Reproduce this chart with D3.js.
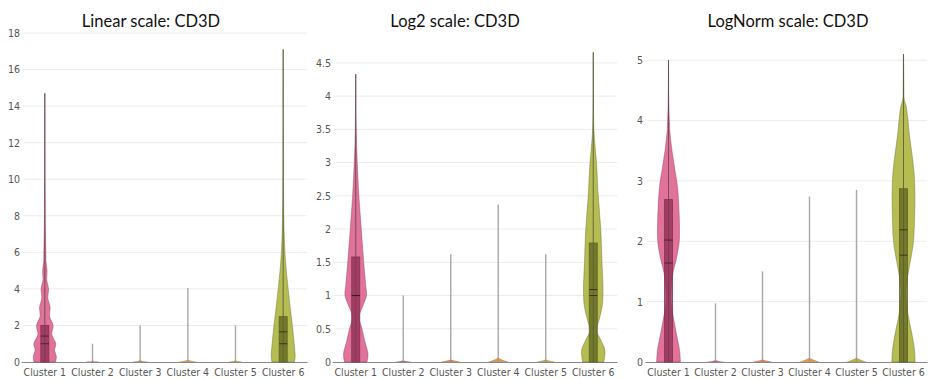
<!DOCTYPE html>
<html><head><meta charset="utf-8">
<script src="https://cdn.jsdelivr.net/npm/d3@7"></script>
<style>
html,body{margin:0;padding:0;background:#fff;}
svg{display:block;}
.tick-label{font-family:"Liberation Sans Narrow","DejaVu Sans Condensed",Roboto,sans-serif;font-size:10.5px;fill:#555;}
.title{font-family:Lato,"Open Sans",sans-serif;font-size:16.5px;fill:#111;}
</style></head>
<body>
<svg id="chart" width="934" height="379"></svg>
<script>
// ---------------- DATA ----------------
const clusters = ["Cluster 1","Cluster 2","Cluster 3","Cluster 4","Cluster 5","Cluster 6"];
const clusterColors = ["#dc5a88","#b5566a","#c3764f","#c98a45","#aa9a3c","#a7b034"];
const boxColors = ["#8a2d52","#7a3040","#7a4a30","#7a5a2a","#6a5e22","#5c6322"];
const titles = ["Linear scale: CD3D","Log2 scale: CD3D","LogNorm scale: CD3D"];

const linearTicks = [0,2,4,6,8,10,12,14,16,18];
const log2Ticks = [0,0.5,1,1.5,2,2.5,3,3.5,4,4.5];
const lognormTicks = [0,1,2,3,4,5];
const domainMax = [18, 4.95, 5.45];

// whisker maxima per cluster
const linearMax  = [14.7, 1.0, 2.0, 4.05, 2.0, 17.1];
const log2Max    = [4.33, 1.0, 1.62, 2.37, 1.62, 4.66];
const lognormMax = [5.0, 0.97, 1.5, 2.74, 2.85, 5.1];

// boxes: [q1, median, q3, mean] for clusters 1 and 6
const linearBox  = [[0, 1.0, 2.0, 1.42], [0, 1.0, 2.48, 1.65]];
const log2Box    = [[0, 1.0, 1.58, 1.0], [0, 1.0, 1.79, 1.09]];
const lognormBox = [[0, 2.02, 2.69, 1.64], [0, 2.19, 2.87, 1.77]];

// violin outlines: [value, relative density]
const linearViolin1 = [[0,0.86],[0.3,0.92],[0.65,0.78],[1,0.88],[1.5,0.56],[2,0.66],[2.5,0.38],[3,0.42],[3.5,0.24],[4,0.3],[4.5,0.15],[5,0.18],[5.5,0.09],[6,0.08],[7,0.05],[8,0.035],[10,0.022],[12,0.014],[14.7,0.006]];
const linearViolin6 = [[0,0.9],[0.3,0.96],[1,0.88],[2,0.74],[3,0.56],[4,0.4],[5,0.25],[6,0.14],[7,0.08],[8,0.05],[9,0.035],[11,0.02],[14,0.012],[17.1,0.006]];
const log2Violin1 = [[0,0.9],[0.12,0.98],[0.3,0.74],[0.5,0.5],[0.68,0.27],[0.85,0.58],[1.0,0.86],[1.15,0.8],[1.5,0.64],[2,0.44],[2.5,0.25],[3,0.12],[3.3,0.06],[3.6,0.03],[4,0.014],[4.33,0.005]];
const log2Violin6 = [[0,0.85],[0.18,0.93],[0.33,0.6],[0.48,0.25],[0.62,0.45],[0.85,0.72],[1.1,0.78],[1.5,0.7],[2,0.6],[2.5,0.4],[3,0.26],[3.25,0.14],[3.5,0.05],[4,0.015],[4.66,0.005]];
const lognormViolin1 = [[0,0.95],[0.2,0.88],[0.5,0.6],[0.75,0.38],[1.0,0.18],[1.2,0.2],[1.5,0.38],[1.7,0.62],[2,0.86],[2.4,0.86],[2.9,0.72],[3.2,0.5],[3.5,0.28],[3.8,0.12],[4.0,0.07],[4.4,0.02],[5,0.006]];
const lognormViolin6 = [[0,0.93],[0.2,0.88],[0.5,0.64],[0.8,0.35],[1.1,0.2],[1.3,0.24],[1.5,0.4],[1.8,0.66],[2,0.8],[2.5,0.9],[2.9,0.9],[3.2,0.82],[3.5,0.64],[3.8,0.45],[4,0.36],[4.25,0.2],[4.35,0.06],[4.6,0.03],[5.1,0.008]];
// tiny violins (clusters 2-5): [base density, height]
const linearSmall  = [[0.6,0.05],[0.7,0.08],[0.8,0.12],[0.6,0.08]];
const log2Small    = [[0.7,0.02],[0.8,0.035],[0.85,0.06],[0.75,0.035]];
const lognormSmall = [[0.7,0.025],[0.8,0.04],[0.85,0.07],[0.85,0.07]];

// ---------------- DRAW ----------------
const svg = d3.select("#chart");
const panels = [
  {ticks:linearTicks, max:linearMax, box:linearBox, v1:linearViolin1, v6:linearViolin6, small:linearSmall, x0:21, x1:307, labelX:20, cx:151},
  {ticks:log2Ticks, max:log2Max, box:log2Box, v1:log2Violin1, v6:log2Violin6, small:log2Small, x0:332, x1:617, labelX:331, cx:455},
  {ticks:lognormTicks, max:lognormMax, box:lognormBox, v1:lognormViolin1, v6:lognormViolin6, small:lognormSmall, x0:645, x1:927, labelX:643, cx:788}
];
const yTop = 33, yBottom = 362;
const wScale = d3.scaleLinear().domain([0,1]).range([0,12.5]);

panels.forEach((p, i) => {
  const g = svg.append("g");
  const y = d3.scaleLinear().domain([0, domainMax[i]]).range([yBottom, yTop]);
  const x = d3.scaleBand().domain(clusters).range([p.x0, p.x1]).padding(0);
  const cx = c => x(c) + x.bandwidth()/2;

  g.append("text").attr("class","title").attr("x",p.cx).attr("y",27).attr("text-anchor","middle").text(titles[i]);

  // gridlines
  g.selectAll(".grid").data(p.ticks.filter(t => t > 0)).join("line")
    .attr("x1", p.x0 + 2).attr("x2", p.x1).attr("y1", d => y(d)).attr("y2", d => y(d))
    .attr("stroke","#ececec").attr("stroke-width",1);

  // y axis labels
  const yAxis = d3.axisLeft(y).tickValues(p.ticks).tickSize(0).tickPadding(0).tickFormat(d3.format("~g"));
  const ya = g.append("g").attr("transform",`translate(${p.labelX},0)`).call(yAxis);
  ya.select(".domain").remove();
  ya.selectAll("text").attr("class","tick-label").attr("font-size",null).attr("font-family",null).attr("fill",null);

  // x axis
  const xAxis = d3.axisBottom(x).tickSize(0).tickPadding(7);
  const xa = g.append("g").attr("transform",`translate(0,${yBottom})`).call(xAxis);
  xa.select(".domain").attr("stroke","#888").attr("stroke-width",1);
  xa.selectAll("text").attr("class","tick-label").attr("font-size",null).attr("font-family",null).attr("fill",null);

  const area = d3.area().curve(d3.curveCatmullRom.alpha(0.5))
    .y(d => y(d[0]));

  // whiskers for small clusters (behind)
  clusters.forEach((c, k) => {
    if (k === 0 || k === 5) return;
    g.append("line").attr("x1",cx(c)).attr("x2",cx(c)).attr("y1",y(0)).attr("y2",y(p.max[k]))
      .attr("stroke", "#9a9a9a").attr("stroke-width",1.4).attr("opacity",0.85);
    const s = p.small[k-1];
    const pts = [[0, s[0]], [s[1]*0.5, s[0]*0.45], [s[1], 0]];
    g.append("path").datum(pts)
      .attr("d", d3.area().curve(d3.curveBasis).y(d => y(d[0])).x0(d => cx(c) - wScale(d[1])).x1(d => cx(c) + wScale(d[1])))
      .attr("fill", clusterColors[k]).attr("opacity",0.85);
  });

  // big violins
  [[0, p.v1, p.box[0]], [5, p.v6, p.box[1]]].forEach(([k, vd, bx]) => {
    const c = clusters[k];
    const xc = cx(c);
    g.append("path").datum(vd)
      .attr("d", area.x0(d => xc - wScale(d[1])).x1(d => xc + wScale(d[1])))
      .attr("fill", clusterColors[k]).attr("fill-opacity",0.85)
      .attr("stroke", boxColors[k]).attr("stroke-opacity",0.5).attr("stroke-width",0.8);
    // whisker
    g.append("line").attr("x1",xc).attr("x2",xc).attr("y1",y(0)).attr("y2",y(p.max[k]))
      .attr("stroke","#333").attr("stroke-width",1).attr("opacity",0.6);
    // box
    g.append("rect").attr("x", xc - 4).attr("width", 8)
      .attr("y", y(bx[2])).attr("height", y(bx[0]) - y(bx[2]))
      .attr("fill", boxColors[k]).attr("fill-opacity",0.75)
      .attr("stroke", boxColors[k]).attr("stroke-width",0.8);
    [bx[1], bx[3]].forEach(v => {
      g.append("line").attr("x1", xc - 4).attr("x2", xc + 4).attr("y1", y(v)).attr("y2", y(v))
        .attr("stroke","#2a1a1a").attr("stroke-width",1).attr("opacity",0.7);
    });
  });
});
</script>
</body></html>
